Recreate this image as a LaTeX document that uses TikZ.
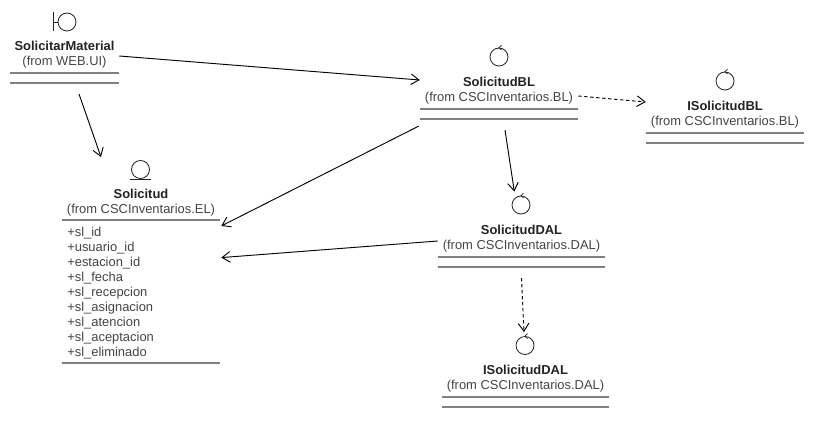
\documentclass[tikz,border=0pt]{standalone}
\usepackage{fontspec}
\setmainfont{Liberation Sans}
\usetikzlibrary{arrows.meta}
\definecolor{ink}{HTML}{222222}
\definecolor{muted}{HTML}{444444}
\definecolor{rule}{HTML}{808080}
\tikzset{
  assoc/.style={draw=black, line width=0.7pt, -{Straight Barb[length=6pt,width=8pt,line width=0.7pt]}},
  depend/.style={assoc, dashed, dash pattern=on 2.5pt off 2pt},
  iconline/.style={draw=ink, line width=0.6pt},
  icon/.style={circle, iconline, minimum size=13.5pt, inner sep=0pt},
  classhead/.style={inner sep=0pt, minimum height=26.25pt, align=center, text=muted, font=\fontsize{9.7}{11.25}\selectfont},
  rulebar/.style={draw=rule, line width=1.3pt},
  attr/.style={anchor=west, inner sep=0pt, text=muted, font=\fontsize{9.7}{11.25}\selectfont}
}
\newcommand{\cname}[1]{\textcolor{ink}{\textbf{#1}}}

\begin{document}
\begin{tikzpicture}[x=0.75pt,y=-0.75pt]
  \useasboundingbox (0,0) rectangle (813,427);

  % icons
  \node[icon] (iconMaterial) at (67,22) {};
  \node[icon] (iconSolicitud) at (140.5,169.5) {};
  \node[icon] (iconBL) at (499,57) {};
  \node[icon] (iconIBL) at (725,81) {};
  \node[icon] (iconDAL) at (521,205) {};
  \node[icon] (iconIDAL) at (525,345.5) {};

  \draw[iconline] (53,12) -- (53,31);
  \draw[iconline] (53,22) -- (iconMaterial.west);
  \draw[iconline] (130,179) -- (151,179);
  \foreach \n in {iconBL,iconIBL,iconDAL,iconIDAL}
    \draw[iconline] ([shift={(2.5,-2.5)}]\n.north) -- (\n.north) -- ([shift={(2.5,2.5)}]\n.north);

  % classes
  \node[classhead, minimum width=81.75pt] (SolicitarMaterial) at (64.5,55) {\cname{SolicitarMaterial}\\(from WEB.UI)};
  \node[classhead, minimum width=118.5pt] (Solicitud) at (141,202.5) {\cname{Solicitud}\\(from CSCInventarios.EL)};
  \node[classhead, minimum width=118.5pt] (SolicitudBL) at (499,91) {\cname{SolicitudBL}\\(from CSCInventarios.BL)};
  \node[classhead, minimum width=118.5pt] (ISolicitudBL) at (725,115) {\cname{ISolicitudBL}\\(from CSCInventarios.BL)};
  \node[classhead, minimum width=125.25pt] (SolicitudDAL) at (521.5,239) {\cname{SolicitudDAL}\\(from CSCInventarios.DAL)};
  \node[classhead, minimum width=125.25pt] (ISolicitudDAL) at (525.5,379) {\cname{ISolicitudDAL}\\(from CSCInventarios.DAL)};

  % compartments
  \foreach \n in {SolicitarMaterial,SolicitudBL,ISolicitudBL,SolicitudDAL,ISolicitudDAL} {
    \draw[rulebar] (\n.south west) -- (\n.south east);
    \draw[rulebar] ([yshift=-7.5pt]\n.south west) -- ([yshift=-7.5pt]\n.south east);
  }
  \draw[rulebar] (Solicitud.south west) -- (Solicitud.south east);

  % attributes
  \foreach \a [count=\i from 0] in {sl\_id,usuario\_id,estacion\_id,sl\_fecha,sl\_recepcion,sl\_asignacion,sl\_atencion,sl\_aceptacion,sl\_eliminado}
    \node[attr] (attr\i) at (67,233.5+15*\i) {+\a};
  \draw[rulebar] ([yshift=-107.25pt]Solicitud.south west) -- ([yshift=-107.25pt]Solicitud.south east);

  % connectors
  \draw[assoc] ([yshift=-0.75pt]SolicitarMaterial.east) -- ([yshift=8.25pt]SolicitudBL.west);
  \draw[assoc] ([xshift=10.9pt,yshift=-16pt]SolicitarMaterial.south) -- ([xshift=-30pt,yshift=20.75pt]Solicitud.north);
  \draw[assoc] ([xshift=-0.75pt,yshift=-13pt]SolicitudBL.south west) -- ([xshift=0.75pt,yshift=-4.3pt]Solicitud.south east);
  \draw[assoc] ([xshift=4.5pt,yshift=-16pt]SolicitudBL.south) -- ([xshift=-5pt,yshift=3pt]iconDAL.north);
  \draw[assoc] ([yshift=-1.5pt]SolicitudDAL.west) -- ([xshift=0.75pt,yshift=-28pt]Solicitud.south east);
  \draw[depend] ([yshift=-3.75pt]SolicitudBL.east) -- ([yshift=9.75pt]ISolicitudBL.west);
  \draw[depend] ([yshift=-16pt]SolicitudDAL.south) -- ([xshift=-0.75pt,yshift=3pt]iconIDAL.north);
\end{tikzpicture}
\end{document}
